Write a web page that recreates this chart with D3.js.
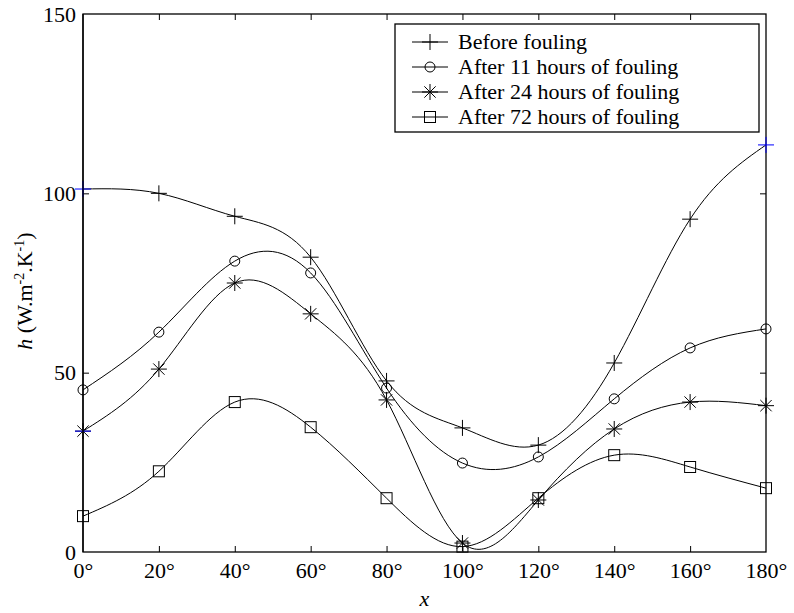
<!DOCTYPE html>
<html>
<head>
<meta charset="utf-8">
<script src="https://cdn.jsdelivr.net/npm/d3@7"></script>
<style>
  html, body { margin: 0; padding: 0; background: #fff; }
  svg { display: block; font-family: "Liberation Serif", "Times New Roman", Times, "DejaVu Serif", serif; }
  svg text { font-family: "Liberation Serif", "Times New Roman", Times, "DejaVu Serif", serif; fill: #000; }
</style>
</head>
<body>
<svg id="chart" width="794" height="613"></svg>
<script>
// ---------------- data ----------------
const angles = [0, 20, 40, 60, 80, 100, 120, 140, 160, 180];
const seriesNames = ["Before fouling", "After 11 hours of fouling", "After 24 hours of fouling", "After 72 hours of fouling"];
const beforeFouling = [101.2, 100.0, 93.6, 82.2, 47.7, 34.6, 29.8, 52.7, 92.8, 113.5];
const after11h = [45.2, 61.3, 81.1, 77.8, 45.7, 24.8, 26.5, 42.7, 56.9, 62.2];
const after24h = [33.7, 51.0, 75.0, 66.4, 42.4, 2.5, 14.5, 34.3, 41.8, 40.8];
const after72h = [10.0, 22.5, 41.8, 34.8, 15.0, 1.5, 15.0, 27.0, 23.7, 17.8];
const markerTypes = ["plus", "circle", "star", "square"];
const xTicks = [0, 20, 40, 60, 80, 100, 120, 140, 160, 180];
const yTicks = [0, 50, 100, 150];
// highlighted (blue) points: [series index, point index, kind]
const highlights = [[0, 0, "plus"], [0, 9, "plus"], [2, 0, "hline"]];

const allSeries = [beforeFouling, after11h, after24h, after72h];
const FONT = '"Liberation Serif", "Times New Roman", Times, serif';

// ---------------- layout ----------------
const svg = d3.select("#chart");
const pL = 83, pR = 766, pT = 14, pB = 552;
const x = d3.scaleLinear().domain([0, 180]).range([pL, pR]);
const y = d3.scaleLinear().domain([0, 150]).range([pB, pT]);

const line = d3.line().x((d, i) => x(angles[i])).y(d => y(d)).curve(d3.curveNatural);

const plot = svg.append("g");
allSeries.forEach(vals => {
  plot.append("path")
    .attr("d", line(vals))
    .attr("fill", "none").attr("stroke", "#000").attr("stroke-width", 1);
});

function drawMarker(g, type, cx, cy, color) {
  const s = 8;
  if (type === "plus") {
    g.append("path").attr("d", `M${cx - s},${cy}H${cx + s}M${cx},${cy - s}V${cy + s}`)
      .attr("stroke", color).attr("stroke-width", 1).attr("fill", "none");
  } else if (type === "circle") {
    g.append("circle").attr("cx", cx).attr("cy", cy).attr("r", 5)
      .attr("stroke", color).attr("stroke-width", 1).attr("fill", "none");
  } else if (type === "star") {
    const d = s * Math.SQRT1_2;
    g.append("path").attr("d",
      `M${cx - s},${cy}H${cx + s}M${cx},${cy - s}V${cy + s}M${cx - d},${cy - d}L${cx + d},${cy + d}M${cx - d},${cy + d}L${cx + d},${cy - d}`)
      .attr("stroke", color).attr("stroke-width", 1).attr("fill", "none");
  } else if (type === "square") {
    g.append("rect").attr("x", cx - 5.5).attr("y", cy - 5.5).attr("width", 11).attr("height", 11)
      .attr("stroke", color).attr("stroke-width", 1).attr("fill", "none");
  } else if (type === "hline") {
    g.append("path").attr("d", `M${cx - s},${cy}H${cx + s}`)
      .attr("stroke", color).attr("stroke-width", 1).attr("fill", "none");
  }
}

const marks = svg.append("g");
allSeries.forEach((vals, si) => {
  vals.forEach((v, i) => {
    const isHighlightPlus = highlights.some(h => h[0] === si && h[1] === i && h[2] === "plus");
    if (!isHighlightPlus) drawMarker(marks, markerTypes[si], x(angles[i]), y(v), "#000");
  });
});

// ---------------- axes (frame with inward ticks) ----------------
const fontSize = 22;
const axB = svg.append("g").attr("transform", `translate(0,${pB})`)
  .call(d3.axisBottom(x).tickValues(xTicks).tickSizeInner(-6).tickSizeOuter(0).tickPadding(10).tickFormat(d => d + "°"));
const axT = svg.append("g").attr("transform", `translate(0,${pT})`)
  .call(d3.axisTop(x).tickValues(xTicks).tickSizeInner(-6).tickSizeOuter(0).tickFormat(""));
const axL = svg.append("g").attr("transform", `translate(${pL},0)`)
  .call(d3.axisLeft(y).tickValues(yTicks).tickSizeInner(-6).tickSizeOuter(0).tickPadding(7).tickFormat(d3.format("d")));
const axR = svg.append("g").attr("transform", `translate(${pR},0)`)
  .call(d3.axisRight(y).tickValues(yTicks).tickSizeInner(-6).tickSizeOuter(0).tickFormat(""));
[axB, axT, axL, axR].forEach(a => {
  a.attr("font-family", FONT).attr("font-size", fontSize);
  a.select(".domain").remove();
  a.selectAll("line").attr("stroke", "#000");
  a.selectAll("text").attr("font-size", fontSize).attr("font-family", FONT).attr("fill", "#000");
});
axB.selectAll(".tick").filter(d => d === 0 || d === 180).select("line").remove();
axT.selectAll(".tick").filter(d => d === 0 || d === 180).select("line").remove();
axL.selectAll(".tick").filter(d => d === 0 || d === 150).select("line").remove();
axR.selectAll(".tick").filter(d => d === 0 || d === 150).select("line").remove();

svg.append("rect").attr("x", pL).attr("y", pT).attr("width", pR - pL).attr("height", pB - pT)
  .attr("fill", "none").attr("stroke", "#000").attr("stroke-width", 1.3);

// highlighted points in blue (on top)
highlights.forEach(h => {
  drawMarker(svg, h[2], x(angles[h[1]]), y(allSeries[h[0]][h[1]]), "#0000ff");
});
svg.append("line").attr("x1", pL).attr("x2", pL).attr("y1", pT).attr("y2", pB)
  .attr("stroke", "#000").attr("stroke-width", 1.3);

// ---------------- titles ----------------
svg.append("text").attr("x", (pL + pR) / 2).attr("y", 606).attr("font-family", FONT)
  .attr("text-anchor", "middle").attr("font-size", fontSize).attr("font-style", "italic").text("x");

const yt = svg.append("text").attr("transform", `translate(32,${(pT + pB) / 2 + 8}) rotate(-90)`)
  .attr("text-anchor", "middle").attr("font-size", fontSize).attr("font-family", FONT);
yt.append("tspan").attr("font-style", "italic").text("h");
yt.append("tspan").text(" (W.m");
yt.append("tspan").attr("font-size", 14).attr("dy", -8).text("-2");
yt.append("tspan").attr("dy", 8).text(".K");
yt.append("tspan").attr("font-size", 14).attr("dy", -8).text("-1");
yt.append("tspan").attr("dy", 8).text(")");

// ---------------- legend ----------------
const lg = svg.append("g");
lg.append("rect").attr("x", 395).attr("y", 24).attr("width", 364).attr("height", 108)
  .attr("fill", "#fff").attr("stroke", "#000").attr("stroke-width", 1.3);
seriesNames.forEach((name, i) => {
  const cy = 42 + i * 25;
  lg.append("line").attr("x1", 412).attr("x2", 448).attr("y1", cy).attr("y2", cy)
    .attr("stroke", "#000").attr("stroke-width", 1);
  drawMarker(lg, markerTypes[i], 430, cy, "#000");
  lg.append("text").attr("x", 458).attr("y", cy + 7).attr("font-size", fontSize)
    .attr("font-family", FONT).text(name);
});
</script>
</body>
</html>
